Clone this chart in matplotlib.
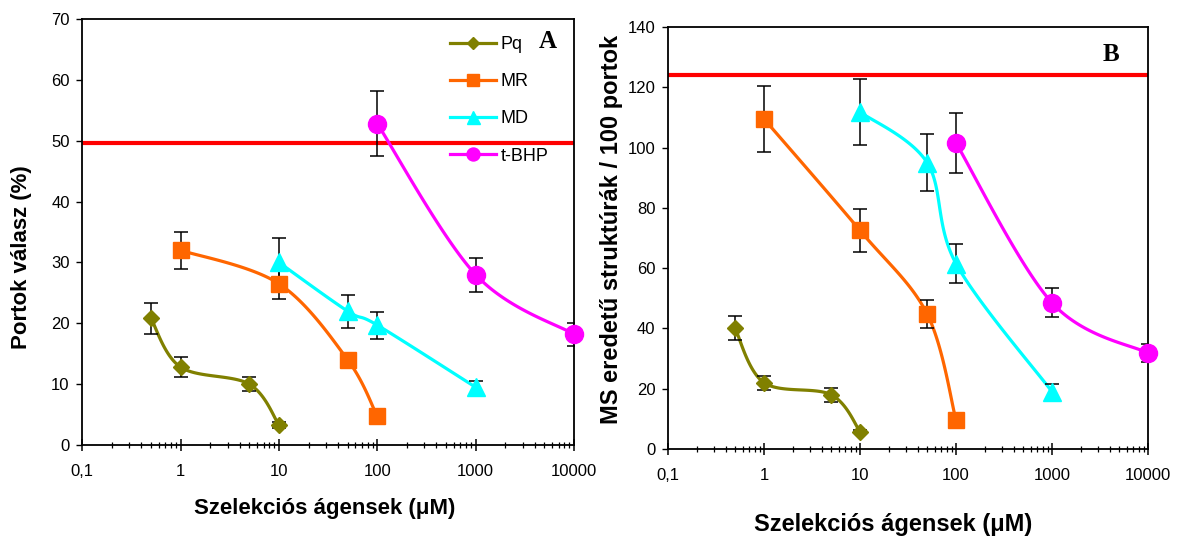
import numpy as np
import matplotlib
matplotlib.use("Agg")
import matplotlib.pyplot as plt
from matplotlib.ticker import FixedLocator, FixedFormatter, LogLocator, NullFormatter

plt.rcParams["font.family"] = ["Liberation Sans", "DejaVu Sans"]

# ---- data ---------------------------------------------------------------
SERIES = ["Pq", "MR", "MD", "t-BHP"]
COLORS = {"Pq": "#808000", "MR": "#FF6600", "MD": "#00FFFF", "t-BHP": "#FF00FF"}
MARKERS = {"Pq": ("D", 8), "MR": ("s", 12), "MD": ("^", 13), "t-BHP": ("o", 13)}

pq_conc = [0.5, 1, 5, 10]
mr_conc = [1, 10, 50, 100]
md_conc = [10, 50, 100, 1000]
tbhp_conc = [100, 1000, 10000]

# panel A: anther response (%)
a_pq = [20.8, 12.8, 10.0, 3.3]
a_pq_err = [2.5, 1.6, 1.2, 0.5]
a_mr = [32.0, 26.5, 14.0, 4.7]
a_mr_err = [3.0, 2.5, 0.4, 0.3]
a_md = [30.0, 22.0, 19.7, 9.5]
a_md_err = [4.0, 2.7, 2.2, 1.1]
a_tbhp = [52.8, 28.0, 18.2]
a_tbhp_err = [5.3, 2.8, 1.9]
a_control = 49.7

# panel B: MS-derived structures / 100 anthers
b_pq = [40.0, 22.0, 18.0, 5.8]
b_pq_err = [4.0, 2.3, 2.3, 0.6]
b_mr = [109.5, 72.5, 44.8, 9.6]
b_mr_err = [11.0, 7.0, 4.5, 0.5]
b_md = [111.8, 95.0, 61.5, 19.0]
b_md_err = [11.0, 9.5, 6.5, 2.5]
b_tbhp = [101.5, 48.5, 31.8]
b_tbhp_err = [10.0, 4.8, 3.0]
b_control = 124.2

x_ticks = [0.1, 1, 10, 100, 1000, 10000]
x_ticklabels = ["0,1", "1", "10", "100", "1000", "10000"]


def smooth(ax, xs, ys, n=40):
    """Bezier smoothing through the points, done in display space."""
    pts = ax.transData.transform(np.column_stack([xs, ys]))
    out = [pts[0]]
    m = len(pts)
    for i in range(m - 1):
        p0 = pts[i - 1] if i > 0 else pts[i]
        p1 = pts[i]
        p2 = pts[i + 1]
        p3 = pts[i + 2] if i + 2 < m else pts[i + 1]
        c1 = p1 + (p2 - p0) / 6.0
        c2 = p2 - (p3 - p1) / 6.0
        t = np.linspace(0, 1, n)[1:, None]
        seg = ((1 - t) ** 3) * p1 + 3 * ((1 - t) ** 2) * t * c1 \
            + 3 * (1 - t) * t ** 2 * c2 + t ** 3 * p2
        out.extend(seg)
    data = ax.transData.inverted().transform(np.array(out))
    return data[:, 0], data[:, 1]


def panel(ax, data, control, ymax, ystep, label, label_pos):
    ax.set_xscale("log")
    ax.set_xlim(0.1, 10000)
    ax.set_ylim(0, ymax)
    ax.xaxis.set_major_locator(FixedLocator(x_ticks))
    ax.xaxis.set_major_formatter(FixedFormatter(x_ticklabels))
    ax.xaxis.set_minor_locator(LogLocator(base=10, subs=np.arange(2, 10)))
    ax.xaxis.set_minor_formatter(NullFormatter())
    ax.set_yticks(np.arange(0, ymax + 1, ystep))
    ax.tick_params(axis="x", which="major", direction="inout", length=8,
                   width=1.1, labelsize=12, pad=10)
    ax.tick_params(axis="x", which="minor", direction="inout", length=5, width=0.9)
    ax.tick_params(axis="y", direction="out", length=4, width=1, labelsize=12, pad=5)
    for sp in ax.spines.values():
        sp.set_linewidth(1.3)

    ax.axhline(control, color="#FF0000", lw=3, zorder=2)
    ax.figure.canvas.draw()
    for name, xs, ys, err in data:
        col = COLORS[name]
        mk, ms = MARKERS[name]
        sx, sy = smooth(ax, xs, ys)
        ax.plot(sx, sy, color=col, lw=2.3, zorder=3, solid_capstyle="round")
        ax.errorbar(xs, ys, yerr=err, fmt="none", ecolor="black", elinewidth=1.1,
                    capsize=4.7, capthick=1.1, zorder=4)
        ax.plot(xs, ys, linestyle="none", marker=mk, ms=ms, color=col,
                mec=col, zorder=5, clip_on=False)
    ax.text(label_pos[0], label_pos[1], label, transform=ax.transAxes,
            ha="right", va="center", fontsize=18, fontweight="bold",
            family="Liberation Serif")


fig = plt.figure(figsize=(11.8, 5.37), dpi=100)
ax_a = fig.add_axes([0.0697, 0.1713, 0.4167, 0.7933])
ax_b = fig.add_axes([0.5661, 0.1639, 0.4068, 0.7858])

panel(ax_a, [("Pq", pq_conc, a_pq, a_pq_err),
             ("MR", mr_conc, a_mr, a_mr_err),
             ("MD", md_conc, a_md, a_md_err),
             ("t-BHP", tbhp_conc, a_tbhp, a_tbhp_err)],
      a_control, 70, 10, "A", (0.965, 0.948))
panel(ax_b, [("Pq", pq_conc, b_pq, b_pq_err),
             ("MR", mr_conc, b_mr, b_mr_err),
             ("MD", md_conc, b_md, b_md_err),
             ("t-BHP", tbhp_conc, b_tbhp, b_tbhp_err)],
      b_control, 140, 20, "B", (0.94, 0.936))

# legend handles for panel A
handles = []
for name in SERIES:
    mk, ms = MARKERS[name]
    h, = ax_a.plot([], [], color=COLORS[name], lw=2.3, marker=mk,
                   ms=ms * 0.72, mec=COLORS[name], label=name)
    handles.append(h)
ax_a.legend(handles=handles, loc="upper left", bbox_to_anchor=(0.748, 0.96),
            frameon=False, fontsize=13, labelspacing=1.12, handlelength=2.55,
            handletextpad=0.25, borderaxespad=0, borderpad=0)

ax_a.set_ylabel("Portok válasz (%)", fontsize=16, fontweight="bold")
ax_a.yaxis.set_label_coords(-0.123, 0.44)
ax_a.yaxis.label.set_va("center")
ax_a.set_xlabel("Szelekciós ágensek (μM)", fontsize=16, fontweight="bold")
ax_a.xaxis.set_label_coords(0.494, -0.15)
ax_a.xaxis.label.set_va("center")

ax_b.set_ylabel("MS eredetű struktúrák / 100 portok", fontsize=17,
                fontweight="bold")
ax_b.yaxis.set_label_coords(-0.117, 0.52)
ax_b.yaxis.label.set_va("center")
ax_b.set_xlabel("Szelekciós ágensek (μM)", fontsize=17, fontweight="bold")
ax_b.xaxis.set_label_coords(0.469, -0.18)
ax_b.xaxis.label.set_va("center")

fig.savefig("out.png", dpi=100)
